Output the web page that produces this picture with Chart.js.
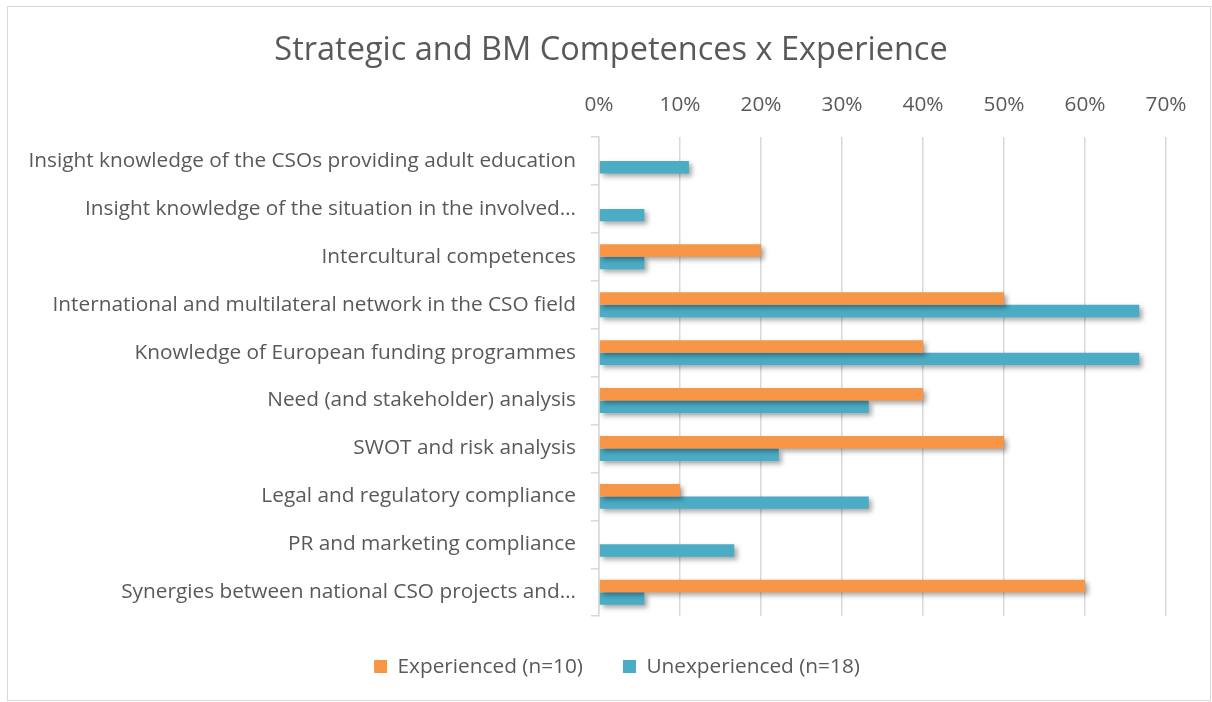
<!DOCTYPE html>
<html>
<head>
<meta charset="utf-8">
<script src="https://cdn.jsdelivr.net/npm/chart.js@4/dist/chart.umd.min.js"></script>
<style>
  html, body { margin: 0; padding: 0; background: #fff; }
  #wrap { position: relative; width: 1212px; height: 702px; }
  #frame { position: absolute; left: 7px; top: 6px; width: 1202px; height: 693px; border: 1px solid #d9d9d9; pointer-events: none; }
</style>
</head>
<body>
<div id="wrap">
  <canvas id="chart" width="1212" height="702"></canvas>
  <div id="frame"></div>
</div>
<script>
// Categories (top to bottom)
const categories = [
    'Insight knowledge of the CSOs providing adult education',
    'Insight knowledge of the situation in the involved\u2026',
    'Intercultural competences',
    'International and multilateral network in the CSO field',
    'Knowledge of European funding programmes',
    'Need (and stakeholder) analysis',
    'SWOT and risk analysis',
    'Legal and regulatory compliance',
    'PR and marketing compliance',
    'Synergies between national CSO projects and\u2026'
];

// Values in percent
const experienced = [0, 0, 20, 50, 40, 40, 50, 10, 0, 60];
const unexperienced = [11.1, 5.6, 5.6, 66.7, 66.7, 33.3, 22.2, 33.3, 16.7, 5.6];

const seriesLabels = ['Experienced (n=10)', 'Unexperienced (n=18)'];
const titleText = 'Strategic and BM Competences x Experience';

const textColor = '#595959';
const gridColor = '#d9d9d9';
const fontFamily = '"Open Sans", Lato, sans-serif';
const labelSize = 20.8;

// Soft drop shadow under the bars, like the Excel original
const barShadow = {
    id: 'barShadow',
    beforeDatasetsDraw(chart) {
        const c = chart.ctx;
        c.save();
        c.shadowColor = 'rgba(0, 0, 0, 0.35)';
        c.shadowBlur = 5;
        c.shadowOffsetX = 3;
        c.shadowOffsetY = 3;
    },
    afterDatasetsDraw(chart) {
        chart.ctx.restore();
    }
};

// Title and legend are centred on the whole frame, not on the padded area
const centreBlocks = {
    id: 'centreBlocks',
    afterLayout(chart) {
        if (chart.titleBlock) chart.titleBlock.left += 56;
        if (chart.legend) chart.legend.left += 68;
    }
};

const ctx = document.getElementById('chart').getContext('2d');

new Chart(ctx, {
    type: 'bar',
    data: {
        labels: categories,
        datasets: [
            {
                label: seriesLabels[0],
                data: experienced,
                backgroundColor: '#F79646',
                categoryPercentage: 0.52,
                barPercentage: 1.0
            },
            {
                label: seriesLabels[1],
                data: unexperienced,
                backgroundColor: '#4BACC6',
                categoryPercentage: 0.52,
                barPercentage: 1.0
            }
        ]
    },
    plugins: [barShadow, centreBlocks],
    options: {
        indexAxis: 'y',
        responsive: false,
        animation: false,
        layout: {
            padding: { left: 0, right: 46, top: 0, bottom: 15 }
        },
        plugins: {
            title: {
                display: true,
                text: titleText,
                color: textColor,
                font: { family: fontFamily, size: 32.5, weight: 'normal', lineHeight: 1.2 },
                padding: { top: 31, bottom: 0 }
            },
            legend: {
                display: true,
                position: 'bottom',
                labels: {
                    color: textColor,
                    font: { family: fontFamily, size: labelSize },
                    boxWidth: 13,
                    boxHeight: 13,
                    padding: 40
                }
            },
            tooltip: { enabled: false }
        },
        scales: {
            x: {
                position: 'top',
                min: 0,
                max: 70,
                ticks: {
                    stepSize: 10,
                    color: textColor,
                    font: { family: fontFamily, size: labelSize },
                    padding: 19,
                    callback: (value) => value + '%'
                },
                grid: {
                    color: gridColor,
                    lineWidth: 1.5,
                    drawTicks: false
                },
                border: { display: false },
                afterFit: (scale) => { scale.height = 67; }
            },
            y: {
                ticks: {
                    color: textColor,
                    font: { family: fontFamily, size: labelSize },
                    padding: 15,
                    autoSkip: false
                },
                grid: {
                    color: gridColor,
                    lineWidth: 1.5,
                    drawOnChartArea: false,
                    drawTicks: true,
                    tickLength: 8,
                    offset: true
                },
                border: { display: true, color: gridColor, width: 1.5 },
                afterFit: (scale) => { scale.width = 599; }
            }
        }
    }
});
</script>
</body>
</html>
